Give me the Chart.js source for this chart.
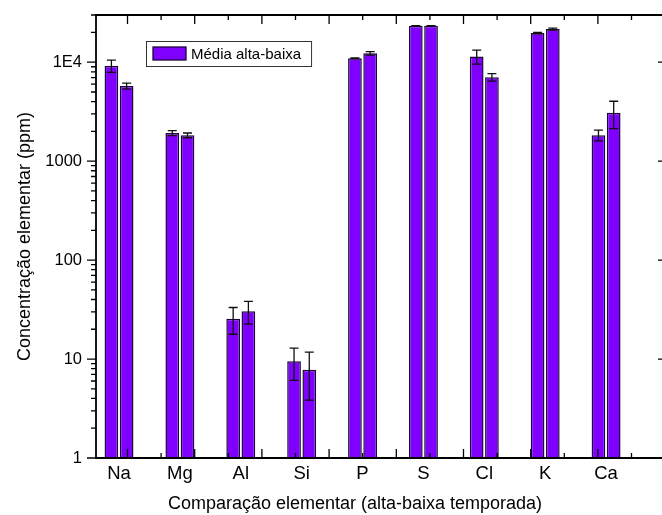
<!DOCTYPE html>
<html>
<head>
<meta charset="utf-8">
<title>Concentração elementar</title>
<script src="https://cdn.jsdelivr.net/npm/chart.js@4/dist/chart.umd.min.js"></script>
<style>
  html, body { margin: 0; padding: 0; background: #ffffff; overflow: hidden; }
  #wrap { width: 664px; height: 515px; position: relative; }
</style>
</head>
<body>
<div id="wrap"><canvas id="chart"></canvas></div>
<script>
// Elemental concentration (ppm), high season vs low season, with error
const elements  = ['Na', 'Mg', 'Al', 'Si', 'P', 'S', 'Cl', 'K', 'Ca'];
const alta      = [9200, 1925, 25.5, 9.5, 10980, 23300, 11400, 19700, 1830];
const altaErr   = [1300, 110, 7.7, 3.4, 100, 150, 1850, 300, 230];
const baixa     = [5750, 1825, 30.4, 7.8, 12300, 23300, 7050, 21600, 3080];
const baixaErr  = [400, 100, 7.9, 3.95, 500, 150, 600, 500, 950];
const yTickValues = [1, 10, 100, 1000, 10000];
const yTickLabels = ['1', '10', '100', '1000', '1E4'];
const legendLabel = 'Média alta-baixa';
const xTitle = 'Comparação elementar (alta-baixa temporada)';
const yTitle = 'Concentração elementar (ppm)';

const FONT = "'Liberation Sans', Arial, Helvetica, sans-serif";
const BAR_FILL = '#7f00ff';
const BAR_EDGE = '#1c0638';

function points(values) {
  return values.map((v, i) => ({ x: i + 1, y: v }));
}

function barStyle() {
  return {
    backgroundColor: BAR_FILL,
    borderColor: BAR_EDGE,
    borderWidth: 1.5,
    borderSkipped: 'start',
    categoryPercentage: 0.5,
    barPercentage: 0.9
  };
}

// Error bars, plot frame with ticks on all four sides, legend and x title
const decorations = {
  id: 'decorations',
  afterDatasetsDraw(chart) {
    const ctx = chart.ctx;
    const ys = chart.scales.y;
    ctx.save();
    ctx.strokeStyle = '#111111';
    ctx.lineWidth = 1.3;
    chart.data.datasets.forEach((ds, di) => {
      const meta = chart.getDatasetMeta(di);
      meta.data.forEach((bar, i) => {
        const v = ds.data[i].y, e = ds.errors[i];
        const yTop = ys.getPixelForValue(v + e);
        const yBot = ys.getPixelForValue(v - e);
        const x = bar.x, cap = 4.5;
        ctx.beginPath();
        ctx.moveTo(x, yTop); ctx.lineTo(x, yBot);
        ctx.moveTo(x - cap, yTop); ctx.lineTo(x + cap, yTop);
        ctx.moveTo(x - cap, yBot); ctx.lineTo(x + cap, yBot);
        ctx.stroke();
      });
    });
    ctx.restore();
  },
  afterDraw(chart) {
    const ctx = chart.ctx;
    const { left: L, right: R, top: T, bottom: B } = chart.chartArea;
    const ys = chart.scales.y;
    const xt = chart.scales.xt;
    ctx.save();
    ctx.strokeStyle = '#000000';
    ctx.lineWidth = 1.8;
    ctx.beginPath();
    ctx.moveTo(L, B); ctx.lineTo(L, T); ctx.lineTo(R, T); ctx.lineTo(R, B); ctx.closePath();
    ctx.stroke();

    ctx.lineWidth = 1.3;
    ctx.beginPath();
    // left axis: decades and minor ticks, pointing outward
    for (let d = 0; d <= 4; d++) {
      for (let m = 1; m <= 9; m++) {
        const v = m * Math.pow(10, d);
        if (v > ys.max) break;
        const py = ys.getPixelForValue(v);
        const len = m === 1 ? 9 : 5;
        ctx.moveTo(L - len, py); ctx.lineTo(L, py);
        if (m === 1) { ctx.moveTo(R, py); ctx.lineTo(R - 5, py); }
      }
    }
    // top and bottom axes: ticks pointing inward
    for (let k = 0; k <= 15; k++) {
      const v = k / 2;
      const px = xt.getPixelForValue(v);
      const len = k % 2 === 0 ? 9 : 5;
      ctx.moveTo(px, T); ctx.lineTo(px, T + len);
      ctx.moveTo(px, B); ctx.lineTo(px, B - len);
    }
    ctx.stroke();

    // legend box inside the plot
    ctx.font = '15px ' + FONT;
    const tw = ctx.measureText(legendLabel).width;
    const bx = L + 50, by = T + 26, bh = 25;
    const bw = 7 + 33 + 5 + tw + 10;
    ctx.fillStyle = '#ffffff';
    ctx.fillRect(bx, by, bw, bh);
    ctx.lineWidth = 1;
    ctx.strokeStyle = '#333333';
    ctx.strokeRect(bx + 0.5, by + 0.5, bw, bh);
    ctx.fillStyle = BAR_FILL;
    ctx.fillRect(bx + 7, by + 6, 33, 13);
    ctx.lineWidth = 1.3;
    ctx.strokeStyle = BAR_EDGE;
    ctx.strokeRect(bx + 7, by + 6, 33, 13);
    ctx.fillStyle = '#000000';
    ctx.textAlign = 'left';
    ctx.textBaseline = 'middle';
    ctx.fillText(legendLabel, bx + 45, by + bh / 2 + 1);

    // x-axis title
    ctx.font = '18px ' + FONT;
    ctx.textAlign = 'center';
    ctx.textBaseline = 'alphabetic';
    ctx.fillText(xTitle, 355, 509);
    ctx.restore();
  }
};

new Chart(document.getElementById('chart'), {
  type: 'bar',
  data: {
    datasets: [
      Object.assign({ label: 'alta', data: points(alta), errors: altaErr }, barStyle()),
      Object.assign({ label: 'baixa', data: points(baixa), errors: baixaErr }, barStyle())
    ]
  },
  options: {
    responsive: true,
    maintainAspectRatio: false,
    animation: false,
    layout: { padding: { top: 15, right: 1, left: 0, bottom: 0 } },
    plugins: {
      legend: { display: false },
      tooltip: { enabled: false },
      colors: { enabled: false }
    },
    scales: {
      x: {
        type: 'linear',
        position: 'bottom',
        min: 0.622,
        max: 9.935,
        offset: false,
        grid: { display: false, drawTicks: false },
        border: { display: false },
        afterBuildTicks: (s) => { s.ticks = elements.map((e, i) => ({ value: i + 1 })); },
        afterFit: (s) => { s.height = 57; s.paddingLeft = 0; s.paddingRight = 0; },
        ticks: {
          autoSkip: false,
          maxRotation: 0,
          padding: 4.5,
          color: '#000000',
          font: { family: FONT, size: 18.5 },
          callback: (v) => elements[v - 1]
        }
      },
      xt: {
        type: 'linear',
        position: 'top',
        display: false,
        min: 0,
        max: 7.5
      },
      y: {
        type: 'logarithmic',
        position: 'left',
        min: 1,
        max: 30000,
        grid: { display: false, drawTicks: false },
        border: { display: false },
        afterBuildTicks: (s) => { s.ticks = yTickValues.map(v => ({ value: v, major: true })); },
        afterFit: (s) => { s.width = 96; s.paddingTop = 0; s.paddingBottom = 0; },
        ticks: {
          padding: 14,
          color: '#000000',
          font: { family: FONT, size: 16.5 },
          callback: (v) => yTickLabels[yTickValues.indexOf(v)]
        },
        title: {
          display: true,
          text: yTitle,
          color: '#000000',
          font: { family: FONT, size: 18 },
          padding: { top: 14, bottom: 0 }
        }
      }
    }
  },
  plugins: [decorations]
});
</script>
</body>
</html>
